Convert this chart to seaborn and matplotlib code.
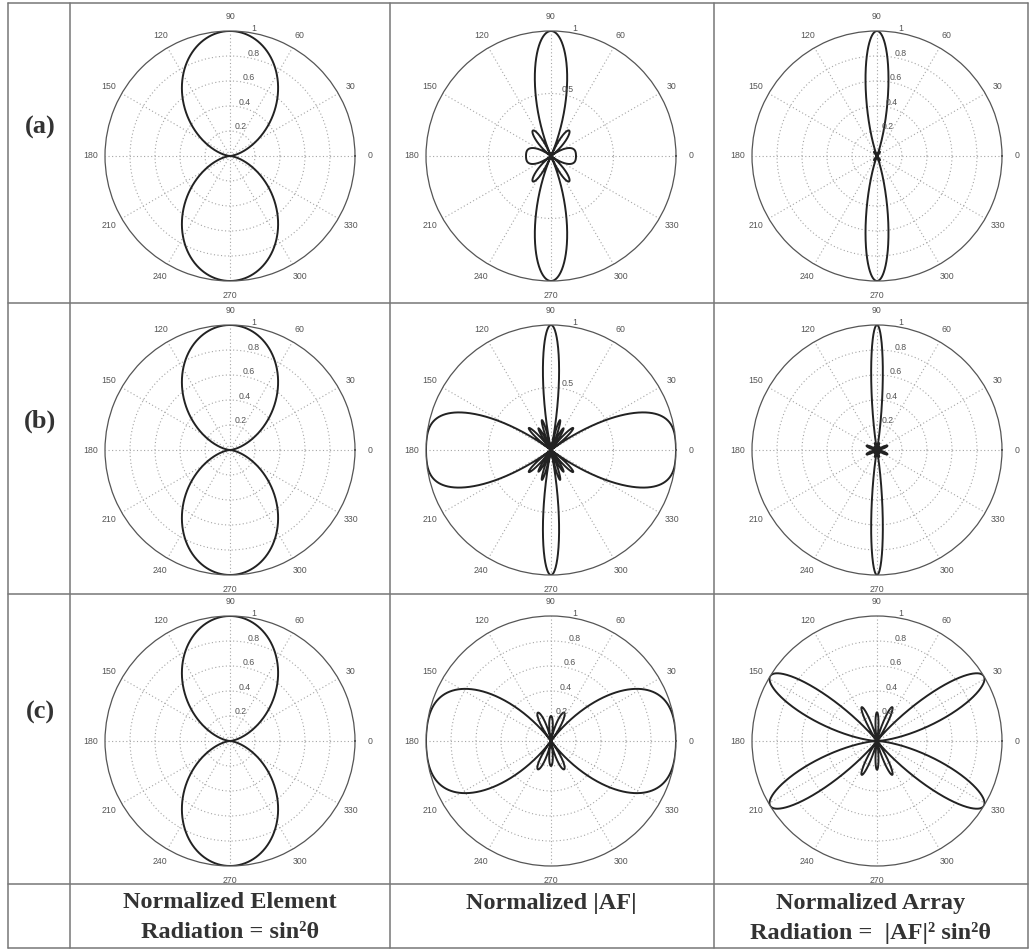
import numpy as np
import pandas as pd
import matplotlib
matplotlib.use("Agg")
import matplotlib.pyplot as plt
from matplotlib.lines import Line2D
import seaborn as sns

sns.set_style("white")
plt.rcParams["font.family"] = ["Liberation Sans", "DejaVu Sans"]

# Array configurations per row: element count, spacing (wavelengths), progressive phase (deg)
row_labels = ["(a)", "(b)", "(c)"]
n_elements = [5, 5, 5]
spacing_wl = [0.5, 1.0, 0.5]
phase_deg = [0.0, 0.0, -180.0]

col_titles = [
    ["Normalized Element", "Radiation = sin\u00b2\u03b8"],
    ["Normalized |AF|"],
    ["Normalized Array", "Radiation =  |AF|\u00b2 sin\u00b2\u03b8"],
]

# radial grid rings per panel column (|AF| panels use coarser rings in rows a, b)
ring_sets = {
    "fine": [0.2, 0.4, 0.6, 0.8],
    "coarse": [0.5],
}
ring_choice = [["fine", "coarse", "fine"],
               ["fine", "coarse", "fine"],
               ["fine", "fine", "fine"]]

angle_ticks = list(range(0, 360, 30))

W, H = 1031, 951
fig = plt.figure(figsize=(W / 100, H / 100), dpi=100)
fig.patch.set_facecolor("white")

col_cx = [230, 551, 877]
row_cy = [156, 450, 741]
R = 125

phi = np.linspace(0, 2 * np.pi, 3601)


def array_factor(n, d, beta_deg):
    psi = 2 * np.pi * d * np.cos(phi) + np.deg2rad(beta_deg)
    k = np.arange(n)[:, None]
    af = np.abs(np.exp(1j * k * psi[None, :]).sum(axis=0)) / n
    return af / af.max()


def draw_polar(ax, r, rings):
    ax.set_ylim(0, 1)
    ax.set_yticks(rings)
    ax.set_yticklabels([])
    ax.set_thetagrids(angle_ticks, [str(a) for a in angle_ticks])
    ax.tick_params(axis="x", pad=3.5, length=0, labelsize=6.3,
                   labelcolor="#555555")
    ax.grid(True, linestyle=(0, (1, 2.2)), color="#a5a5a5", linewidth=0.8)
    ax.spines["polar"].set_color("#555555")
    ax.spines["polar"].set_linewidth(0.9)
    df = pd.DataFrame({"angle": phi, "radius": r})
    sns.lineplot(data=df, x="angle", y="radius", ax=ax, sort=False,
                 estimator=None, color="#222222", linewidth=1.4)
    ax.set_xlabel("")
    ax.set_ylabel("")
    for v in rings + [1.0]:
        lbl = "1" if v == 1.0 else f"{v:g}"
        ax.text(np.deg2rad(80), v, lbl, ha="left", va="bottom",
                fontsize=6.3, color="#555555")


element = np.sin(phi) ** 2
for i in range(3):
    af = array_factor(n_elements[i], spacing_wl[i], phase_deg[i])
    total = af ** 2 * element
    total = total / total.max()
    patterns = [element, af, total]
    for j in range(3):
        cx, cy = col_cx[j], row_cy[i]
        ax = fig.add_axes([(cx - R) / W, 1 - (cy + R) / H, 2 * R / W, 2 * R / H],
                          projection="polar")
        draw_polar(ax, patterns[j], ring_sets[ring_choice[i][j]])
    fig.text(40 / W, 1 - (row_cy[i] - 29) / H, row_labels[i], ha="center",
             va="center", fontsize=19, fontweight="bold",
             family="Liberation Serif", color="#333333")

# column titles in the bottom row
title_cx = [230, 551, 871]
for j, lines in enumerate(col_titles):
    for k, line in enumerate(lines):
        fig.text(title_cx[j] / W, 1 - (903 + 30 * k) / H, line, ha="center",
                 va="center", fontsize=17.5, fontweight="bold",
                 family="Liberation Serif", color="#333333")

# table rules
vx = [8, 70, 390, 714, 1028]
hy = [3, 303, 594, 884, 948]
for x in vx:
    fig.add_artist(Line2D([x / W, x / W], [1 - hy[0] / H, 1 - hy[-1] / H],
                          transform=fig.transFigure, color="#777777", linewidth=1.1))
for y in hy:
    fig.add_artist(Line2D([vx[0] / W, vx[-1] / W], [1 - y / H, 1 - y / H],
                          transform=fig.transFigure, color="#777777", linewidth=1.1))

fig.savefig("out.png", dpi=100, facecolor="white")
